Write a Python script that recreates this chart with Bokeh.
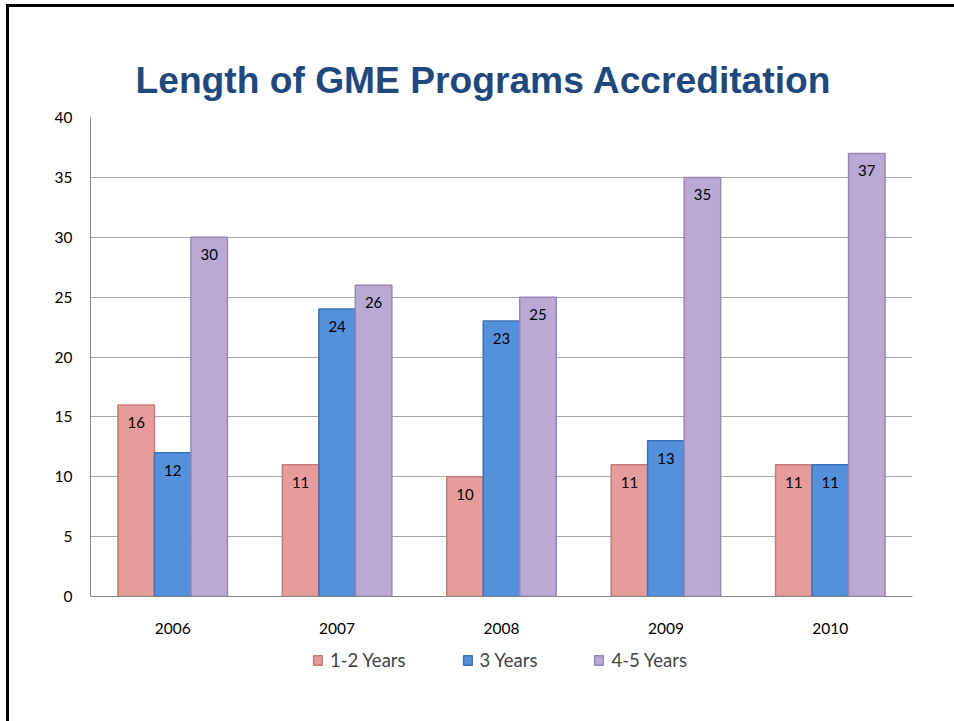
from bokeh.plotting import figure
from bokeh.models import ColumnDataSource, FactorRange, Legend, LegendItem, Range1d
from bokeh.layouts import column
from bokeh.transform import dodge
from bokeh.core.properties import value
from bokeh.embed import file_html
from bokeh.resources import INLINE

years = ["2006", "2007", "2008", "2009", "2010"]
yrs_1_2 = [16, 11, 10, 11, 11]
yrs_3 = [12, 24, 23, 13, 11]
yrs_4_5 = [30, 26, 25, 35, 37]
series_names = ["1-2 Years", "3 Years", "4-5 Years"]
y_ticks = [0, 5, 10, 15, 20, 25, 30, 35, 40]

src = ColumnDataSource(dict(year=years, a=yrs_1_2, b=yrs_3, c=yrs_4_5,
                            la=[str(v) for v in yrs_1_2],
                            lb=[str(v) for v in yrs_3],
                            lc=[str(v) for v in yrs_4_5]))

p = figure(x_range=FactorRange(*years, range_padding=0),
           y_range=Range1d(0, 40),
           frame_width=822, frame_height=479,
           min_border_left=81, min_border_right=42,
           min_border_top=110, min_border_bottom=45,
           output_backend="svg", toolbar_location=None,
           title="Length of GME Programs Accreditation")

p.title.align = "left"
p.title.offset = 45
p.title.text_font = "Liberation Sans"
p.title.text_font_style = "bold"
p.title.text_font_size = "37.2px"
p.title.text_color = "#1F497D"
p.title.standoff = 34

p.outline_line_color = None
p.background_fill_color = "white"
p.border_fill_color = "white"

p.xgrid.grid_line_color = None
p.ygrid.grid_line_color = "#A6A6A6"
p.ygrid.grid_line_width = 1
p.yaxis.ticker = y_ticks

for ax in (p.xaxis, p.yaxis):
    ax.axis_line_color = "#888888"
    ax.major_tick_line_color = None
    ax.minor_tick_line_color = None
    ax.major_label_text_font = "Lato"
    ax.major_label_text_font_size = "15.5px"
    ax.major_label_text_color = "#000000"

p.yaxis.major_label_standoff = 12
p.xaxis.major_label_standoff = 20

colors = ["#E59C9A", "#5590DC", "#B9A9D4"]
edges = ["#C27C7A", "#3C70B4", "#9887B6"]
offsets = [-0.222, 0.0, 0.222]
cols = ["a", "b", "c"]
lcols = ["la", "lb", "lc"]
w = 0.222

for i in range(3):
    p.vbar(x=dodge("year", offsets[i], range=p.x_range), top=cols[i], width=w,
           source=src, fill_color=colors[i], line_color=edges[i], line_width=1.5)
    p.text(x=dodge("year", offsets[i], range=p.x_range), y=cols[i], text=lcols[i],
           source=src, text_align="center", text_baseline="top", y_offset=12,
           text_font=value("Lato"), text_font_size="15px", text_color="#000000")

# legend strip below the chart (its swatch renderers sit outside the strip's visible range)
p2 = figure(width=945, height=40, x_range=(0, 1), y_range=(0, 1),
            min_border=0, output_backend="svg", toolbar_location=None)
p2.axis.visible = False
p2.grid.visible = False
p2.outline_line_color = None
p2.border_fill_color = "white"

items = []
for i in range(3):
    r = p2.vbar(x=[-5], top=[-5], bottom=[-6], width=0.1, fill_color=colors[i],
                line_color=edges[i], line_width=1.5)
    items.append(LegendItem(label=series_names[i], renderers=[r], index=0))

legend = Legend(items=items, orientation="horizontal", location=(222, 10),
                border_line_color=None, background_fill_alpha=0,
                label_text_font="Lato", label_text_font_size="18.5px",
                glyph_width=11, glyph_height=12, spacing=56, label_standoff=7,
                padding=0, margin=0)
p2.add_layout(legend, "center")

layout = column(p, p2, spacing=0)
layout.styles = {"border-top": "3px solid black", "border-left": "3px solid black",
                 "margin-left": "6px", "margin-top": "4px", "padding-bottom": "40px"}

open("out.html", "w").write(file_html(layout, INLINE))
